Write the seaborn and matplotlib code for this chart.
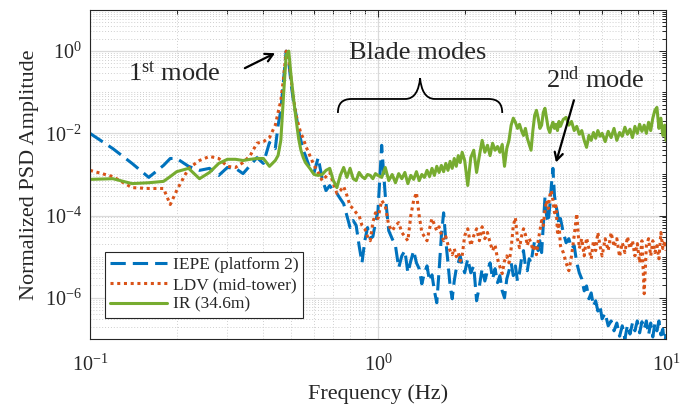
import numpy as np
import pandas as pd
import matplotlib
matplotlib.use("Agg")
import matplotlib.pyplot as plt
import seaborn as sns
from matplotlib.path import Path
from matplotlib.patches import PathPatch
from matplotlib.ticker import FixedLocator, LogLocator, FuncFormatter, NullFormatter

# Frequency bins (Hz)
freq = [
    0.10, 0.12, 0.14, 0.16, 0.18, 0.19, 0.20, 0.22, 0.24, 0.26, 0.28, 0.30, 0.32, 0.34, 0.36, 0.38, 0.40, 0.42, 0.44,
    0.45, 0.46, 0.47, 0.48, 0.49, 0.50, 0.51, 0.52, 0.53, 0.54, 0.55, 0.56,
    0.58, 0.60, 0.62, 0.64, 0.66, 0.68, 0.70, 0.72, 0.74, 0.76, 0.78, 0.80, 0.82, 0.84, 0.86, 0.88, 0.90, 0.92, 0.94, 0.96, 0.98, 1.00,
    1.03, 1.06, 1.09, 1.12, 1.15, 1.18, 1.21, 1.24, 1.27, 1.30, 1.33, 1.36, 1.39, 1.42, 1.45, 1.48, 1.51, 1.54, 1.57, 1.60,
    1.63, 1.66, 1.69, 1.72, 1.75, 1.78, 1.81, 1.84, 1.87, 1.90, 1.93, 1.96, 2.00,
    2.05, 2.10, 2.15, 2.20, 2.25, 2.30, 2.35, 2.40, 2.45, 2.50, 2.55, 2.60, 2.65, 2.70, 2.75, 2.80, 2.85, 2.90, 2.95, 3.00,
    3.05, 3.10, 3.15, 3.20, 3.25, 3.30, 3.35, 3.40, 3.45, 3.50, 3.55, 3.60, 3.65, 3.70, 3.75, 3.80, 3.85, 3.90, 3.95, 4.00,
    4.05, 4.10, 4.15, 4.20, 4.25, 4.30, 4.40, 4.50, 4.60, 4.70, 4.80, 4.90, 5.00, 5.10, 5.20, 5.30, 5.40, 5.50, 5.60, 5.70,
    5.80, 5.90, 6.00, 6.15, 6.30, 6.45, 6.60, 6.75, 6.90, 7.05, 7.20, 7.35, 7.50, 7.65, 7.80, 7.95, 8.10, 8.25, 8.40, 8.55,
    8.70, 8.85, 9.00, 9.15, 9.30, 9.45, 9.60, 9.75, 9.90, 10.0,
]

# Normalized PSD, IEPE accelerometer on platform 2
iepe = [
    1.0e-2, 4.27e-3, 1.86e-3, 8.5e-4, 1.66e-3, 2.45e-3, 2.45e-3, 1.58e-3, 1.26e-3, 1.41e-3, 9.5e-4, 1.48e-3, 1.41e-3, 1.05e-3, 1.66e-3, 2.57e-3, 1.86e-3, 6.0e-3, 4.27e-3,
    1.58e-2, 3.63e-2, 0.195, 1.0, 0.54, 0.148, 5.4e-2, 2.75e-2, 1.17e-2, 6.76e-3, 3.89e-3, 2.88e-3,
    1.41e-3, 1.12e-3, 2.57e-3, 7.9e-4, 4.07e-4, 5.37e-4, 4.07e-4, 3.47e-4, 2.57e-4, 1.95e-4, 1.0e-4, 5.13e-5, 7.6e-5, 5.75e-5, 1.86e-5, 7.1e-6, 2.45e-5, 5.13e-5, 2.75e-5, 3.09e-5, 6.76e-5, 1.32e-4,
    5.13e-3, 3.09e-4, 4.27e-5, 2.75e-5, 1.86e-5, 5.37e-6, 1.05e-5, 1.41e-5, 4.07e-6, 7.9e-6, 1.41e-5, 7.1e-6, 5.13e-6, 2.19e-6, 4.07e-6, 6.0e-6, 2.57e-6, 3.63e-6, 1.48e-6, 7.6e-7,
    4.57e-6, 3.24e-5, 1.17e-4, 2.45e-5, 7.1e-6, 1.95e-6, 9.5e-7, 2.57e-6, 5.13e-6, 7.1e-6, 1.05e-5, 6.3e-6, 4.07e-6,
    8.9e-6, 4.07e-6, 6.0e-6, 8.5e-7, 1.95e-6, 5.13e-6, 2.57e-6, 4.57e-6, 7.1e-6, 2.88e-6, 5.13e-6, 2.34e-6, 3.47e-6, 1.48e-6, 1.0e-6, 2.88e-6, 4.57e-6, 7.1e-6, 3.47e-6, 6.0e-6,
    2.57e-6, 4.07e-6, 8.9e-6, 1.41e-5, 6.0e-6, 4.57e-6, 8.9e-6, 7.1e-6, 1.41e-5, 2.45e-5, 1.86e-5, 1.41e-5, 2.45e-5, 1.26e-5, 5.75e-5, 2.75e-4, 1.0e-4, 6.76e-5, 1.74e-4, 5.37e-4,
    1.41e-3, 3.09e-4, 1.74e-4, 1.17e-4, 5.75e-5, 8.5e-5, 3.89e-5, 2.19e-5, 2.75e-5, 1.58e-5, 1.86e-5, 7.1e-6, 4.07e-6, 2.88e-6, 1.48e-6, 1.95e-6, 9.5e-7, 1.32e-6, 6.3e-7, 8.5e-7,
    4.79e-7, 6.3e-7, 3.09e-7, 4.27e-7, 2.09e-7, 2.75e-7, 1.58e-7, 2.45e-7, 1.17e-7, 2.09e-7, 1.0e-7, 2.19e-7, 1.32e-7, 2.45e-7, 1.58e-7, 2.75e-7, 1.41e-7, 2.63e-7, 1.74e-7, 2.75e-7,
    1.26e-7, 2.45e-7, 1.12e-7, 2.34e-7, 1.58e-7, 2.75e-7, 1.26e-7, 1.74e-7, 6.8e-8, 1.41e-7,
]

# Normalized PSD, laser Doppler vibrometer at mid-tower
ldv = [
    1.26e-3, 8.9e-4, 4.79e-4, 4.57e-4, 4.57e-4, 1.86e-4, 4.07e-4, 1.41e-3, 2.19e-3, 2.75e-3, 2.45e-3, 1.58e-3, 1.48e-3, 1.95e-3, 2.88e-3, 5.75e-3, 6.3e-3, 7.9e-3, 1.58e-2,
    3.24e-2, 6.3e-2, 0.219, 1.0, 0.60, 0.195, 6.3e-2, 2.75e-2, 1.58e-2, 1.0e-2, 7.6e-3, 5.13e-3,
    2.88e-3, 1.66e-3, 1.12e-3, 7.1e-4, 8.9e-4, 1.12e-3, 6.0e-4, 3.47e-4, 4.07e-4, 5.13e-4, 3.09e-4, 1.74e-4, 1.48e-4, 1.17e-4, 1.0e-4, 5.75e-5, 4.79e-5, 3.09e-5, 2.45e-5, 6.76e-5, 1.17e-4, 8.5e-5,
    2.34e-4, 1.74e-4, 5.75e-5, 4.27e-5, 5.75e-5, 6.76e-5, 3.89e-5, 3.09e-5, 2.45e-5, 1.0e-4, 2.34e-4, 3.63e-4, 1.0e-4, 3.89e-5, 3.09e-5, 2.45e-5, 4.79e-5, 8.5e-5, 6.0e-5, 4.27e-5,
    5.37e-5, 3.47e-5, 2.45e-5, 3.09e-5, 1.95e-5, 1.41e-5, 1.12e-5, 1.58e-5, 1.0e-5, 1.26e-5, 7.9e-6, 1.05e-5, 3.24e-5,
    4.79e-5, 1.86e-5, 3.24e-5, 4.79e-5, 2.45e-5, 5.37e-5, 2.75e-5, 3.89e-5, 2.19e-5, 1.41e-5, 1.95e-5, 8.9e-6, 5.75e-6, 3.89e-6, 7.9e-6, 1.05e-5, 7.1e-6, 1.58e-5, 5.75e-5, 8.9e-5,
    2.75e-5, 1.66e-5, 3.09e-5, 4.79e-5, 3.47e-5, 1.86e-5, 2.75e-5, 2.19e-5, 1.41e-5, 1.95e-5, 1.12e-5, 2.45e-5, 4.27e-5, 7.6e-5, 5.75e-5, 1.32e-4, 2.34e-4, 1.48e-4, 3.09e-4, 4.07e-4,
    2.34e-4, 1.17e-4, 1.74e-4, 3.89e-5, 6.76e-5, 1.86e-5, 1.26e-5, 7.1e-6, 4.57e-6, 1.05e-5, 3.24e-5, 1.12e-4, 1.58e-5, 2.75e-5, 1.05e-5, 2.88e-5, 1.58e-5, 8.9e-6, 2.45e-5, 1.41e-5,
    3.89e-5, 1.86e-5, 1.05e-5, 2.75e-5, 1.41e-5, 3.89e-5, 1.74e-5, 2.75e-5, 1.0e-5, 2.19e-5, 1.26e-5, 3.09e-5, 1.58e-5, 2.45e-5, 1.05e-5, 2.09e-5, 7.1e-6, 2.45e-5, 1.26e-6, 1.86e-5,
    2.75e-5, 1.05e-5, 2.45e-5, 1.26e-5, 1.86e-5, 8.9e-6, 3.89e-5, 1.58e-5, 2.45e-5, 1.41e-5,
]

# Normalized PSD, infrared camera target at 34.6 m
ir = [
    7.6e-4, 7.9e-4, 6.0e-4, 6.3e-4, 6.8e-4, 8.9e-4, 1.17e-3, 1.41e-3, 7.9e-4, 1.12e-3, 1.86e-3, 2.34e-3, 2.34e-3, 2.19e-3, 2.34e-3, 2.45e-3, 2.45e-3, 1.58e-3, 2.19e-3,
    2.9e-3, 6.8e-3, 8.5e-2, 0.80, 1.0, 0.22, 6.3e-2, 2.1e-2, 7.6e-3, 3.9e-3, 2.6e-3, 1.95e-3,
    1.41e-3, 1.0e-3, 9.5e-4, 1.0e-3, 1.26e-3, 1.41e-3, 7.1e-4, 4.8e-4, 9.5e-4, 1.48e-3, 8.5e-4, 1.41e-3, 7.9e-4, 7.1e-4, 1.12e-3, 8.9e-4, 7.9e-4, 1.0e-3, 9.5e-4, 7.9e-4, 1.05e-3, 9.5e-4,
    8.5e-4, 1.48e-3, 7.1e-4, 1.0e-3, 6.3e-4, 1.05e-3, 7.9e-4, 1.12e-3, 6.0e-4, 9.5e-4, 7.6e-4, 1.17e-3, 7.1e-4, 1.0e-3, 8.5e-4, 1.26e-3, 8.9e-4, 1.41e-3, 9.5e-4, 1.58e-3,
    1.12e-3, 1.66e-3, 1.17e-3, 1.86e-3, 1.26e-3, 2.09e-3, 1.41e-3, 2.45e-3, 1.58e-3, 2.88e-3, 1.95e-3, 3.47e-3, 2.19e-3,
    5.4e-4, 2.57e-3, 3.89e-3, 1.12e-3, 2.88e-3, 6.76e-3, 3.47e-3, 5.13e-3, 2.88e-3, 5.75e-3, 3.89e-3, 4.79e-3, 3.47e-3, 5.37e-3, 1.58e-3, 4.27e-3, 6.76e-3, 1.58e-2, 2.34e-2, 1.86e-2,
    1.32e-2, 1.66e-2, 1.17e-2, 8.9e-3, 1.32e-2, 7.6e-3, 5.37e-3, 3.89e-3, 1.17e-2, 2.75e-2, 3.63e-2, 2.34e-2, 1.32e-2, 1.58e-2, 3.24e-2, 4.07e-2, 2.34e-2, 1.32e-2, 1.05e-2, 1.48e-2,
    1.86e-2, 1.32e-2, 1.66e-2, 1.17e-2, 1.95e-2, 1.48e-2, 2.19e-2, 2.45e-2, 1.58e-2, 1.95e-2, 1.17e-2, 1.48e-2, 9.5e-3, 1.17e-2, 6.76e-3, 4.57e-3, 8.9e-3, 6.76e-3, 1.05e-2, 7.6e-3,
    1.17e-2, 8.5e-3, 1.0e-2, 6.3e-3, 1.12e-2, 7.9e-3, 1.32e-2, 6.76e-3, 1.05e-2, 8.5e-3, 1.41e-2, 9.5e-3, 1.26e-2, 7.9e-3, 1.48e-2, 1.0e-2, 1.66e-2, 1.12e-2, 1.58e-2, 1.0e-2,
    1.86e-2, 1.17e-2, 2.34e-2, 3.63e-2, 4.27e-2, 1.32e-2, 2.34e-2, 8.9e-3, 1.58e-2, 6.76e-3,
]

sensor_labels = ["IEPE (platform 2)", "LDV (mid-tower)", "IR (34.6m)"]
sensor_colors = ["#0072BD", "#D95319", "#77AC30"]

# Frequency span of the rotor-blade modes marked with a brace
blade_band = (0.726, 2.70)

sns.set_style("white")
plt.rcParams["font.family"] = ["Liberation Serif", "DejaVu Serif"]
plt.rcParams["mathtext.fontset"] = "custom"
plt.rcParams["mathtext.rm"] = "Liberation Serif"
plt.rcParams["mathtext.it"] = "Liberation Serif:italic"
plt.rcParams["mathtext.bf"] = "Liberation Serif:bold"

df = pd.DataFrame({"freq": freq, "IEPE": iepe, "LDV": ldv, "IR": ir})

fig = plt.figure(figsize=(6.91, 4.04), dpi=100)
ax = fig.add_axes([0.1302, 0.1609, 0.8336, 0.8144])
ax.set_xscale("log")
ax.set_yscale("log")

for col, lab, col_c in zip(["IEPE", "LDV", "IR"], sensor_labels, sensor_colors):
    sns.lineplot(data=df, x="freq", y=col, ax=ax, color=col_c, lw=2.2,
                 label=lab, estimator=None, sort=False)

ax.lines[0].set_dashes([5.0, 2.3])
ax.lines[1].set_dashes([1.0, 1.2])

ax.set_xlim(0.1, 10)
ax.set_ylim(1e-7, 1e1)

ax.xaxis.set_major_locator(FixedLocator([0.1, 1, 10]))
ax.xaxis.set_minor_locator(LogLocator(base=10, subs=np.arange(2, 10), numticks=50))
ax.yaxis.set_major_locator(FixedLocator([1e-6, 1e-4, 1e-2, 1e0]))
ax.yaxis.set_minor_locator(LogLocator(base=10, subs=np.arange(1, 10), numticks=50))
pow_fmt = FuncFormatter(lambda v, p: r"$10^{%d}$" % int(round(np.log10(v))))
ax.xaxis.set_major_formatter(pow_fmt)
ax.yaxis.set_major_formatter(pow_fmt)
ax.xaxis.set_minor_formatter(NullFormatter())
ax.yaxis.set_minor_formatter(NullFormatter())

ax.set_axisbelow(True)
ax.grid(True, which="major", color="#dadada", lw=0.9, ls="-")
ax.grid(True, which="minor", color="#cfcfcf", lw=0.7, ls=(0, (1, 2)))

ax.tick_params(which="both", direction="in", top=True, right=True, color="#262626", width=0.7)
ax.tick_params(which="major", length=5, labelsize=14.5)
ax.tick_params(axis="x", which="major", pad=11)
ax.tick_params(axis="y", which="major", pad=6)
ax.tick_params(which="minor", length=3)
for s in ax.spines.values():
    s.set_color("#262626")
    s.set_linewidth(0.8)

ax.set_xlabel("Frequency (Hz)", fontsize=16, labelpad=6)
ax.set_ylabel("Normalized PSD Amplitude", fontsize=16, labelpad=4)

leg = ax.legend(loc="lower left", bbox_to_anchor=(0.026, 0.064), fontsize=12.5, frameon=True,
                fancybox=False, edgecolor="#262626", framealpha=1, handlelength=3.3,
                borderpad=0.3, labelspacing=0.2, handletextpad=0.3, borderaxespad=0)
leg.get_frame().set_linewidth(0.8)

# Annotations
ax.text(0.197, 0.29, r"1$^{\mathrm{st}}$ mode", ha="center", va="center", fontsize=19)
ax.annotate("", xy=(0.439, 0.89), xytext=(0.345, 0.385),
            arrowprops=dict(arrowstyle="->,head_length=0.55,head_width=0.3", lw=1.6,
                            color="k", shrinkA=0, shrinkB=0))
ax.text(1.372, 0.89, "Blade modes", ha="center", va="center", fontsize=19)
ax.text(5.67, 0.20, r"2$^{\mathrm{nd}}$ mode", ha="center", va="center", fontsize=19)
ax.annotate("", xy=(4.15, 1.96e-3), xytext=(4.79, 0.0638),
            arrowprops=dict(arrowstyle="->,head_length=0.55,head_width=0.3", lw=1.6,
                            color="k", shrinkA=0, shrinkB=0))

# Curly brace over the blade-mode band, drawn in axes coordinates
def to_ax(f):
    return (np.log10(f) - np.log10(0.1)) / 2.0

x0, x1 = to_ax(blade_band[0]), to_ax(blade_band[1])
xm = 0.5 * (x0 + x1)
y_end, y_bar, y_tip = 0.687, 0.7295, 0.793
r = 0.024
tw = 0.026
verts = [
    (x0, y_end), (x0, y_end + 0.028), (x0 + 0.007, y_bar), (x0 + r, y_bar),
    (xm - tw, y_bar),
    (xm - 0.009, y_bar), (xm - 0.002, y_bar + 0.027), (xm, y_tip),
    (xm + 0.002, y_bar + 0.027), (xm + 0.009, y_bar), (xm + tw, y_bar),
    (x1 - r, y_bar),
    (x1 - 0.007, y_bar), (x1, y_end + 0.028), (x1, y_end),
]
codes = [Path.MOVETO, Path.CURVE4, Path.CURVE4, Path.CURVE4,
         Path.LINETO,
         Path.CURVE4, Path.CURVE4, Path.CURVE4,
         Path.CURVE4, Path.CURVE4, Path.CURVE4,
         Path.LINETO,
         Path.CURVE4, Path.CURVE4, Path.CURVE4]
ax.add_patch(PathPatch(Path(verts, codes), transform=ax.transAxes, fill=False,
                       lw=1.3, edgecolor="k", clip_on=False))

fig.savefig("out.png", dpi=100)
